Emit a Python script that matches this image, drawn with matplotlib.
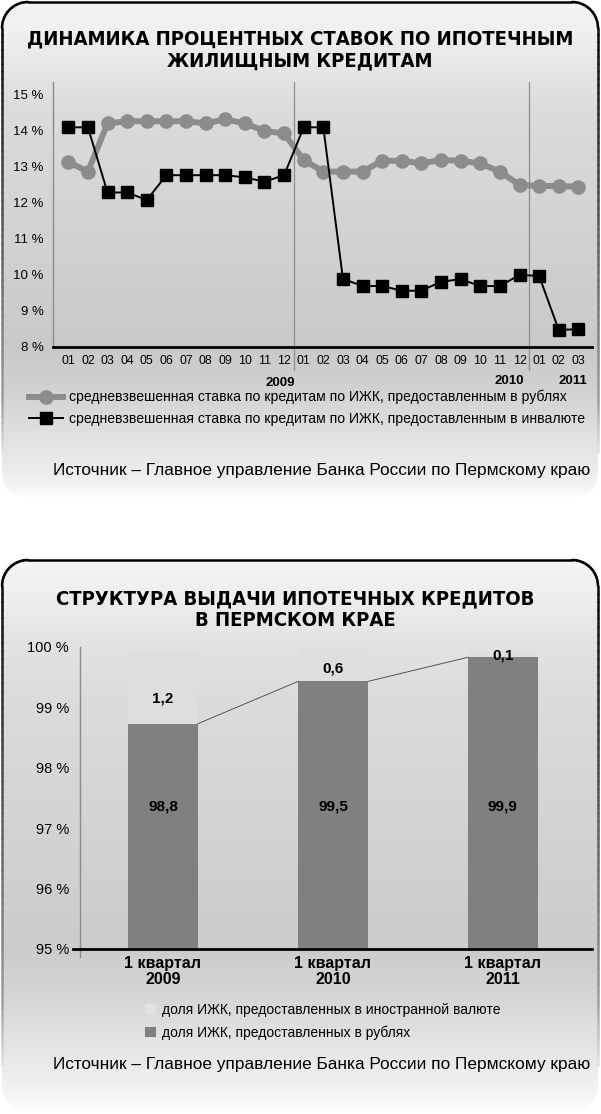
import numpy as np
import matplotlib
matplotlib.use('Agg')
import matplotlib.pyplot as plt
from matplotlib.patches import FancyBboxPatch, Patch
from matplotlib.collections import LineCollection

plt.rcParams['font.family'] = ['Liberation Sans', 'DejaVu Sans']

# ---------------- data ----------------
month_labels = ['01', '02', '03', '04', '05', '06', '07', '08', '09', '10', '11', '12',
                '01', '02', '03', '04', '05', '06', '07', '08', '09', '10', '11', '12',
                '01', '02', '03']
year_labels = ['2009', '2010', '2011']
rate_rub = [13.13, 12.86, 14.20, 14.26, 14.26, 14.26, 14.26, 14.20, 14.31, 14.20, 13.99, 13.92,
            13.18, 12.86, 12.86, 12.86, 13.16, 13.16, 13.09, 13.18, 13.16, 13.09, 12.86, 12.49,
            12.46, 12.46, 12.44]
rate_fx = [14.09, 14.09, 12.28, 12.28, 12.07, 12.76, 12.76, 12.76, 12.76, 12.70, 12.58, 12.76,
           14.09, 14.09, 9.88, 9.68, 9.68, 9.55, 9.55, 9.80, 9.87, 9.68, 9.68, 9.99,
           9.96, 8.46, 8.48]
legend_top = ['средневзвешенная ставка по кредитам по ИЖК, предоставленным в рублях',
              'средневзвешенная ставка по кредитам по ИЖК, предоставленным в инвалюте']

quarters = ['1 квартал\n2009', '1 квартал\n2010', '1 квартал\n2011']
share_rub = [98.73, 99.43, 99.83]
share_fx = [1.2, 0.6, 0.1]
label_rub = ['98,8', '99,5', '99,9']
label_fx = ['1,2', '0,6', '0,1']
legend_bottom = ['доля ИЖК, предоставленных в иностранной валюте',
                 'доля ИЖК, предоставленных в рублях']

title_top = 'ДИНАМИКА ПРОЦЕНТНЫХ СТАВОК ПО ИПОТЕЧНЫМ\nЖИЛИЩНЫМ КРЕДИТАМ'
title_bottom = 'СТРУКТУРА ВЫДАЧИ ИПОТЕЧНЫХ КРЕДИТОВ\nВ ПЕРМСКОМ КРАЕ'
source = 'Источник – Главное управление Банка России по Пермскому краю'

# ---------------- figure ----------------
W, H = 601, 1114
fig = plt.figure(figsize=(W / 100, H / 100), dpi=100)
fig.patch.set_facecolor('white')

bg = fig.add_axes([0, 0, 1, 1])
bg.set_xlim(0, W)
bg.set_ylim(H, 0)
bg.axis('off')


def px_box(x0, y0, x1, y1):
    return [x0 / W, 1 - y1 / H, (x1 - x0) / W, (y1 - y0) / H]


def panel(x0, y0, x1, y1, stops, r=26):
    ys = np.arange(y0, y1 + 1)
    sy, sv = zip(*stops)
    g = np.interp(ys, sy, sv)
    img = np.repeat(g[:, None], 8, axis=1)
    rgb = np.dstack([img, img, img])
    patch = FancyBboxPatch((x0, y0), x1 - x0, y1 - y0,
                           boxstyle=f'round,pad=0,rounding_size={r}',
                           facecolor='none', edgecolor='none')
    bg.add_patch(patch)
    im = bg.imshow(rgb, extent=(x0, x1, y1, y0), aspect='auto',
                   interpolation='bilinear', zorder=0)
    im.set_clip_path(patch)
    yend = y1 - 45
    pts = []
    for yy in np.linspace(yend, y0 + r, 60):
        pts.append((x0, yy))
    for t in np.linspace(0, np.pi / 2, 20):
        pts.append((x0 + r - r * np.cos(t), y0 + r - r * np.sin(t)))
    for t in np.linspace(0, np.pi / 2, 20):
        pts.append((x1 - r + r * np.sin(t), y0 + r - r * np.cos(t)))
    for yy in np.linspace(y0 + r, yend, 60):
        pts.append((x1, yy))
    pts = np.array(pts)
    segs = np.stack([pts[:-1], pts[1:]], axis=1)
    ymid = (segs[:, 0, 1] + segs[:, 1, 1]) / 2 - y0
    hh = y1 - y0
    lev = np.interp(ymid, [0, 40, 0.45 * hh, 0.8 * hh, hh - 45], [0.0, 0.05, 0.35, 0.62, 0.9])
    cols = [(v, v, v) for v in lev]
    lc = LineCollection(segs, colors=cols, linewidths=1.8, zorder=1, capstyle='round')
    bg.add_collection(lc)


panel(2, 2, 598, 497,
      [(2, 0.96), (30, 0.94), (70, 0.90), (110, 0.86), (250, 0.82), (345, 0.79),
       (380, 0.81), (420, 0.86), (460, 0.91), (485, 0.95), (497, 0.99)])
panel(2, 560, 598, 1110,
      [(560, 0.96), (600, 0.93), (640, 0.89), (700, 0.86), (900, 0.81), (950, 0.80),
       (1000, 0.84), (1050, 0.90), (1085, 0.94), (1100, 0.97), (1110, 0.99)])

TITLE_FONT = dict(family=['DejaVu Sans'], fontweight='bold', fontstretch='condensed',
                  fontsize=14.5)
bg.text(300, 50, title_top, ha='center', va='center', linespacing=1.15, **TITLE_FONT)
bg.text(295, 610, title_bottom, ha='center', va='center', linespacing=1.15, **TITLE_FONT)
bg.text(590, 471, source, ha='right', va='center', fontsize=12.4)
bg.text(590, 1065, source, ha='right', va='center', fontsize=12.4)

# ---------------- top chart ----------------
GRAY = '#8c8c8c'
ax1 = fig.add_axes(px_box(52.7, 82, 591.7, 346.5))
ax1.patch.set_alpha(0)
x = np.arange(len(month_labels))
ax1.plot(x, rate_rub, color=GRAY, lw=4.3, marker='o', ms=9.5, zorder=3, label=legend_top[0])
ax1.plot(x, rate_fx, color='black', lw=1.4, marker='s', ms=8.4, zorder=4, label=legend_top[1])
ax1.set_xlim(-0.795, 26.68)
ax1.set_ylim(8, 15.35)
ax1.set_yticks(range(8, 16))
ax1.set_yticklabels([f'{v} %' for v in range(8, 16)], fontsize=9.5)
ax1.set_xticks(x)
ax1.set_xticklabels(month_labels, fontsize=8.9)
ax1.tick_params(length=0)
ax1.tick_params(axis='y', pad=6.5)
ax1.tick_params(axis='x', pad=6)
for s in ['top', 'right']:
    ax1.spines[s].set_visible(False)
ax1.spines['left'].set_color(GRAY)
ax1.spines['left'].set_linewidth(1.0)
ax1.spines['bottom'].set_color('black')
ax1.spines['bottom'].set_linewidth(2.0)
for b in [11.5, 23.5]:
    ax1.axvline(b, ymin=-0.089, ymax=1, color=GRAY, lw=0.9, clip_on=False, zorder=1)
xt = ax1.get_xaxis_transform()
for lbl, xp, yp in zip(year_labels, [10.79, 22.5, 25.7], [-0.137, -0.130, -0.130]):
    ax1.text(xp, yp, lbl, transform=xt, ha='center', va='center',
             fontsize=9.5, fontweight='bold')
fig.legend(handles=ax1.get_lines()[:2], labels=legend_top, loc='upper left',
           bbox_to_anchor=(29 / W, 1 - 390 / H), frameon=False, fontsize=10.1,
           handlelength=2.4, handletextpad=0.45, labelspacing=0.55,
           borderpad=0, borderaxespad=0)

# ---------------- bottom chart ----------------
ax2 = fig.add_axes(px_box(80, 647, 592, 949))
ax2.patch.set_alpha(0)
xb = np.arange(len(quarters))
bw = 0.41
ax2.bar(xb, share_rub, width=bw, color='#808080', zorder=2, label=legend_bottom[1])
ax2.bar(xb, share_fx, width=bw, bottom=share_rub, color='#dedede', zorder=2,
        label=legend_bottom[0])
for i in range(len(xb) - 1):
    ax2.plot([xb[i] + bw / 2, xb[i + 1] - bw / 2], [share_rub[i], share_rub[i + 1]],
             color='#404040', lw=0.6, zorder=3)
ax2.set_xlim(-0.488, 2.524)
ax2.set_ylim(95, 100)
ax2.set_yticks(range(95, 101))
ax2.set_yticklabels([f'{v} %' for v in range(95, 101)], fontsize=10.5)
ax2.set_xticks(xb)
ax2.set_xticklabels(quarters, fontsize=11.5, fontweight='bold', linespacing=1.05)
ax2.tick_params(length=0)
ax2.tick_params(axis='y', pad=8)
ax2.tick_params(axis='x', pad=5)
for s in ax2.spines.values():
    s.set_visible(False)
ax2.axvline(-0.488, ymin=0, ymax=1.0, color=GRAY, lw=1.0, clip_on=False, zorder=1)
ax2.plot([-0.488, -0.488], [95, 94.86], color=GRAY, lw=1.0, clip_on=False)
ax2.axhline(95, xmin=-0.014, xmax=1, color='black', lw=2.0, clip_on=False, zorder=4)
for i in range(len(xb)):
    ax2.text(xb[i], 97.36, label_rub[i], ha='center', va='center', fontsize=11,
             fontweight='bold', zorder=5)
    ax2.text(xb[i], share_rub[i] + share_fx[i] * 0.35, label_fx[i], ha='center',
             va='center', fontsize=11, fontweight='bold', zorder=5)
h_fx = Patch(facecolor='#e2e2e2', edgecolor='none')
h_rub = Patch(facecolor='#808080', edgecolor='none')
fig.legend(handles=[h_fx, h_rub], labels=legend_bottom, loc='upper left',
           bbox_to_anchor=(145 / W, 1 - 1003 / H), frameon=False, fontsize=10,
           handlelength=0.8, handleheight=0.8, handletextpad=0.4, labelspacing=0.6,
           borderpad=0, borderaxespad=0)

fig.savefig('out.png', dpi=100, facecolor='white')
